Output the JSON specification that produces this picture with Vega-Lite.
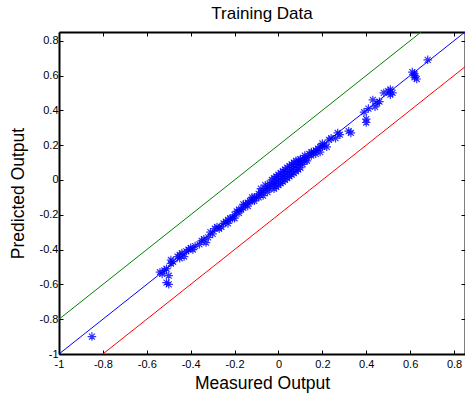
{
  "$schema": "https://vega.github.io/schema/vega-lite/v6.json",
  "width": 406,
  "height": 322,
  "autosize": {"type": "none"},
  "padding": {"left": 59, "top": 32, "right": 0, "bottom": 47},
  "config": {
    "view": {"stroke": null},
    "font": "Liberation Sans",
    "axis": {
      "grid": false, "domainColor": "black", "domainWidth": 2, "tickColor": "black",
      "tickSize": -4, "tickWidth": 1, "labelFont": "Liberation Sans", "labelFontSize": 11,
      "labelColor": "black", "titleFont": "Liberation Sans", "titleFontSize": 17.5,
      "titleFontWeight": "normal", "titleColor": "black", "labelFlush": false, "labelOverlap": false
    }
  },
  "title": {"text": "Training Data", "fontSize": 17, "fontWeight": "normal", "font": "Liberation Sans", "color": "black", "offset": 9},
  "datasets": {
    "pts": [
      {"measured": -0.85, "predicted": -0.9},
      {"measured": -0.54, "predicted": -0.53}, {"measured": -0.53, "predicted": -0.54}, {"measured": -0.52, "predicted": -0.52},
      {"measured": -0.51, "predicted": -0.51}, {"measured": -0.5, "predicted": -0.55}, {"measured": -0.51, "predicted": -0.59},
      {"measured": -0.5, "predicted": -0.6}, {"measured": -0.49, "predicted": -0.48}, {"measured": -0.48, "predicted": -0.47},
      {"measured": -0.49, "predicted": -0.46}, {"measured": -0.46, "predicted": -0.44}, {"measured": -0.45, "predicted": -0.45},
      {"measured": -0.45, "predicted": -0.43}, {"measured": -0.44, "predicted": -0.42}, {"measured": -0.43, "predicted": -0.44},
      {"measured": -0.42, "predicted": -0.41}, {"measured": -0.41, "predicted": -0.4}, {"measured": -0.4, "predicted": -0.39},
      {"measured": -0.39, "predicted": -0.4}, {"measured": -0.38, "predicted": -0.38}, {"measured": -0.36, "predicted": -0.37},
      {"measured": -0.35, "predicted": -0.35}, {"measured": -0.34, "predicted": -0.34}, {"measured": -0.33, "predicted": -0.36},
      {"measured": -0.32, "predicted": -0.33}, {"measured": -0.31, "predicted": -0.3}, {"measured": -0.3, "predicted": -0.31},
      {"measured": -0.29, "predicted": -0.28}, {"measured": -0.28, "predicted": -0.27}, {"measured": -0.27, "predicted": -0.28},
      {"measured": -0.26, "predicted": -0.27}, {"measured": -0.25, "predicted": -0.25}, {"measured": -0.24, "predicted": -0.24},
      {"measured": -0.23, "predicted": -0.23}, {"measured": -0.23, "predicted": -0.25},
      {"measured": -0.22, "predicted": -0.22}, {"measured": -0.21, "predicted": -0.22}, {"measured": -0.2, "predicted": -0.2},
      {"measured": -0.2, "predicted": -0.22}, {"measured": -0.19, "predicted": -0.18}, {"measured": -0.18, "predicted": -0.17},
      {"measured": -0.18, "predicted": -0.19}, {"measured": -0.17, "predicted": -0.17}, {"measured": -0.16, "predicted": -0.16},
      {"measured": -0.16, "predicted": -0.14}, {"measured": -0.15, "predicted": -0.14}, {"measured": -0.14, "predicted": -0.13},
      {"measured": -0.14, "predicted": -0.15}, {"measured": -0.13, "predicted": -0.12}, {"measured": -0.12, "predicted": -0.12},
      {"measured": -0.12, "predicted": -0.1}, {"measured": -0.11, "predicted": -0.1}, {"measured": -0.11, "predicted": -0.12},
      {"measured": -0.1, "predicted": -0.1}, {"measured": -0.09, "predicted": -0.08}, {"measured": -0.09, "predicted": -0.1},
      {"measured": -0.08, "predicted": -0.07}, {"measured": -0.08, "predicted": -0.05},
      {"measured": -0.07, "predicted": -0.07}, {"measured": -0.07, "predicted": -0.09}, {"measured": -0.06, "predicted": -0.05},
      {"measured": -0.06, "predicted": -0.03}, {"measured": -0.05, "predicted": -0.04}, {"measured": -0.05, "predicted": -0.07},
      {"measured": -0.04, "predicted": -0.05}, {"measured": -0.04, "predicted": -0.02}, {"measured": -0.03, "predicted": -0.03},
      {"measured": -0.03, "predicted": 0.0}, {"measured": -0.02, "predicted": -0.02}, {"measured": -0.02, "predicted": 0.01},
      {"measured": -0.02, "predicted": -0.05}, {"measured": -0.01, "predicted": -0.01}, {"measured": -0.01, "predicted": 0.02},
      {"measured": -0.01, "predicted": -0.04}, {"measured": 0.0, "predicted": 0.0},
      {"measured": 0.0, "predicted": 0.03}, {"measured": 0.0, "predicted": -0.03}, {"measured": 0.01, "predicted": 0.01},
      {"measured": 0.01, "predicted": 0.04}, {"measured": 0.01, "predicted": -0.02}, {"measured": 0.02, "predicted": 0.02},
      {"measured": 0.02, "predicted": 0.05}, {"measured": 0.02, "predicted": -0.01}, {"measured": 0.03, "predicted": 0.03},
      {"measured": 0.03, "predicted": 0.06}, {"measured": 0.03, "predicted": 0.0}, {"measured": 0.04, "predicted": 0.04},
      {"measured": 0.04, "predicted": 0.07}, {"measured": 0.04, "predicted": 0.01}, {"measured": 0.05, "predicted": 0.05},
      {"measured": 0.05, "predicted": 0.08}, {"measured": 0.05, "predicted": 0.02}, {"measured": 0.06, "predicted": 0.06},
      {"measured": 0.06, "predicted": 0.03}, {"measured": 0.06, "predicted": 0.09}, {"measured": 0.07, "predicted": 0.07},
      {"measured": 0.07, "predicted": 0.1}, {"measured": 0.07, "predicted": 0.04}, {"measured": 0.08, "predicted": 0.08},
      {"measured": 0.08, "predicted": 0.05}, {"measured": 0.08, "predicted": 0.11}, {"measured": 0.09, "predicted": 0.09},
      {"measured": 0.09, "predicted": 0.11}, {"measured": 0.09, "predicted": 0.06}, {"measured": 0.1, "predicted": 0.1},
      {"measured": 0.1, "predicted": 0.07}, {"measured": 0.1, "predicted": 0.12}, {"measured": 0.11, "predicted": 0.12},
      {"measured": 0.11, "predicted": 0.09}, {"measured": 0.12, "predicted": 0.11}, {"measured": 0.12, "predicted": 0.14},
      {"measured": 0.13, "predicted": 0.13}, {"measured": 0.13, "predicted": 0.11}, {"measured": 0.14, "predicted": 0.15},
      {"measured": 0.15, "predicted": 0.14}, {"measured": 0.15, "predicted": 0.16}, {"measured": 0.16, "predicted": 0.16},
      {"measured": 0.17, "predicted": 0.17}, {"measured": 0.17, "predicted": 0.15}, {"measured": 0.18, "predicted": 0.18},
      {"measured": 0.19, "predicted": 0.16}, {"measured": 0.19, "predicted": 0.19},
      {"measured": 0.2, "predicted": 0.19}, {"measured": 0.2, "predicted": 0.21}, {"measured": 0.21, "predicted": 0.2},
      {"measured": 0.22, "predicted": 0.19}, {"measured": 0.23, "predicted": 0.23}, {"measured": 0.24, "predicted": 0.24},
      {"measured": 0.26, "predicted": 0.24}, {"measured": 0.27, "predicted": 0.27}, {"measured": 0.28, "predicted": 0.26},
      {"measured": 0.32, "predicted": 0.28}, {"measured": 0.33, "predicted": 0.27}, {"measured": 0.39, "predicted": 0.39},
      {"measured": 0.4, "predicted": 0.33}, {"measured": 0.41, "predicted": 0.41}, {"measured": 0.4, "predicted": 0.35},
      {"measured": 0.43, "predicted": 0.46}, {"measured": 0.45, "predicted": 0.44}, {"measured": 0.46, "predicted": 0.45},
      {"measured": 0.44, "predicted": 0.42}, {"measured": 0.48, "predicted": 0.5}, {"measured": 0.5, "predicted": 0.51},
      {"measured": 0.51, "predicted": 0.49}, {"measured": 0.52, "predicted": 0.5}, {"measured": 0.51, "predicted": 0.52},
      {"measured": 0.61, "predicted": 0.62}, {"measured": 0.62, "predicted": 0.61}, {"measured": 0.62, "predicted": 0.59},
      {"measured": 0.63, "predicted": 0.58}, {"measured": 0.62, "predicted": 0.6}, {"measured": 0.68, "predicted": 0.69}
    ],
    "lines": [
      {"series": "blue", "measured": -1, "predicted": -1}, {"series": "blue", "measured": 0.85, "predicted": 0.85},
      {"series": "green", "measured": -1, "predicted": -0.8}, {"series": "green", "measured": 0.65, "predicted": 0.85},
      {"series": "red", "measured": -0.8, "predicted": -1}, {"series": "red", "measured": 0.85, "predicted": 0.65}
    ]
  },
  "layer": [
    {
      "data": {"name": "pts"},
      "mark": {"type": "point", "shape": "M-1,0L1,0M0,-1L0,1M-0.7,-0.7L0.7,0.7M-0.7,0.7L0.7,-0.7", "filled": false, "stroke": "#0000ff", "strokeWidth": 1.2, "size": 72, "opacity": 0.8},
      "encoding": {
        "x": {"field": "measured", "type": "quantitative", "scale": {"domain": [-1, 0.85], "nice": false, "zero": false},
              "axis": {"orient": "bottom", "values": [-1, -0.8, -0.6, -0.4, -0.2, 0, 0.2, 0.4, 0.6, 0.8], "labelExpr": "'' + round(datum.value*10)/10", "title": "Measured Output", "labelPadding": 8, "titlePadding": 5}},
        "y": {"field": "predicted", "type": "quantitative", "scale": {"domain": [-1, 0.85], "nice": false, "zero": false},
              "axis": {"orient": "left", "values": [-1, -0.8, -0.6, -0.4, -0.2, 0, 0.2, 0.4, 0.6, 0.8], "labelExpr": "'' + round(datum.value*10)/10", "title": "Predicted Output", "labelPadding": 5, "titlePadding": 12}}
      }
    },
    {
      "data": {"name": "lines"},
      "mark": {"type": "line", "strokeWidth": 1, "clip": true},
      "encoding": {
        "x": {"field": "measured", "type": "quantitative", "axis": {"orient": "top", "labels": false, "title": null, "values": [-1, -0.8, -0.6, -0.4, -0.2, 0, 0.2, 0.4, 0.6, 0.8]}},
        "y": {"field": "predicted", "type": "quantitative", "axis": {"orient": "right", "labels": false, "title": null, "values": [-1, -0.8, -0.6, -0.4, -0.2, 0, 0.2, 0.4, 0.6, 0.8]}},
        "color": {"field": "series", "type": "nominal", "scale": {"domain": ["green", "blue", "red"], "range": ["#008000", "#0000ff", "#ff0000"]}, "legend": null}
      }
    }
  ],
  "resolve": {"axis": {"x": "independent", "y": "independent"}}
}
